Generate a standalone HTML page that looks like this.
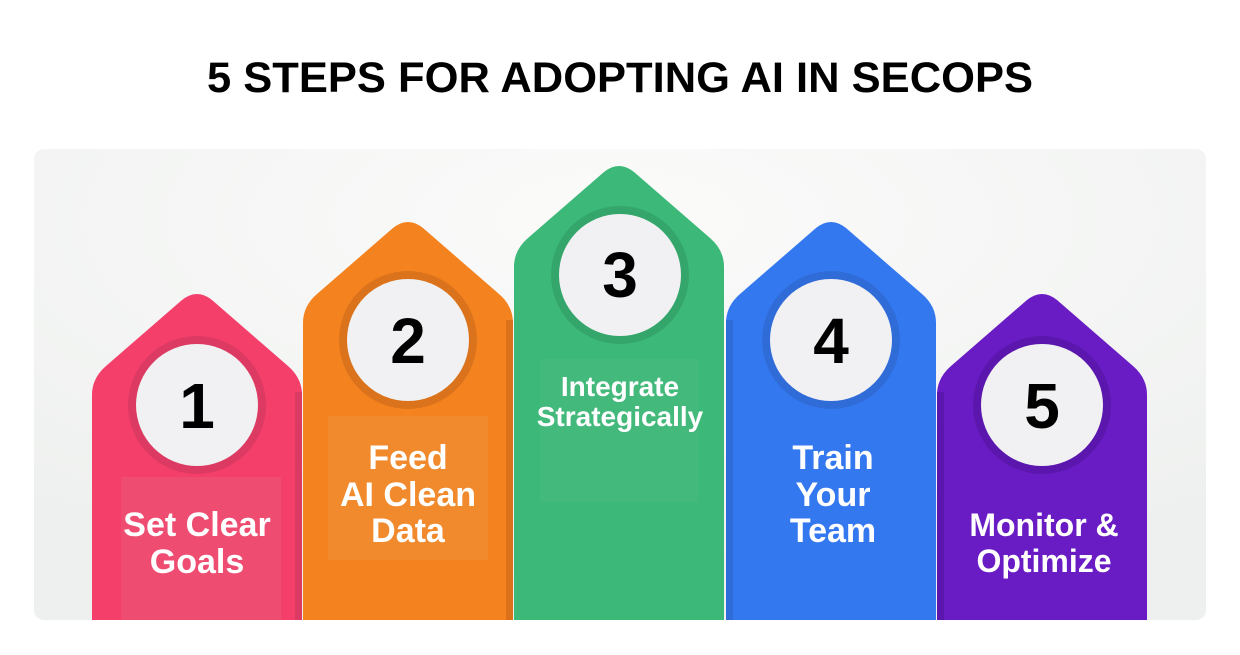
<!DOCTYPE html>
<html><head><meta charset="utf-8"><style>
body{margin:0;width:1240px;height:650px;background:#fff;overflow:hidden;font-family:"Liberation Sans",sans-serif}
</style></head><body>
<svg width="1240" height="650" xmlns="http://www.w3.org/2000/svg">
<defs>
<radialGradient id="bg" cx="0.5" cy="0.15" r="0.8">
<stop offset="0" stop-color="#fbfbfa"/><stop offset="1" stop-color="#eef0ef"/>
</radialGradient>
</defs>
<text x="620" y="92" text-anchor="middle" font-family="Liberation Sans" font-weight="bold" font-size="43" fill="#000" textLength="826" lengthAdjust="spacingAndGlyphs">5 STEPS FOR ADOPTING AI IN SECOPS</text>
<rect x="34" y="149" width="1172" height="471" rx="10" fill="url(#bg)"/>
<g id="cols">
<path d="M92,620 L92,395 Q92,378 106,366 L182,300 Q197,288 212,300 L288,366 Q302,378 302,395 L302,620 Z" fill="#f43f6b"/>
<rect x="295" y="392" width="7" height="228" fill="#db3a62"/>
<rect x="121" y="477" width="160" height="143" fill="#ef4c72"/>
<circle cx="197" cy="405" r="69" fill="#dc3a62"/><circle cx="197" cy="405" r="61" fill="#f1f0f2"/>
<text x="197" y="428" text-anchor="middle" font-weight="bold" font-size="64" fill="#000">1</text>
<text text-anchor="middle" font-weight="bold" font-size="34" fill="#fff"><tspan x="197" y="536">Set Clear</tspan><tspan x="197" y="573">Goals</tspan></text>
<path d="M303,620 L303,323 Q303,306 317,294 L393,228 Q408,216 423,228 L499,294 Q513,306 513,323 L513,620 Z" fill="#f3821f"/>
<rect x="506" y="320" width="7" height="300" fill="#dc711b"/>
<rect x="328" y="416" width="160" height="144" fill="#f18a2c"/>
<circle cx="408" cy="340" r="69" fill="#da731b"/><circle cx="408" cy="340" r="61" fill="#f1f0f2"/>
<text x="408" y="363" text-anchor="middle" font-weight="bold" font-size="64" fill="#000">2</text>
<text text-anchor="middle" font-weight="bold" font-size="34" fill="#fff"><tspan x="408" y="469">Feed</tspan><tspan x="408" y="506">AI Clean</tspan><tspan x="408" y="542">Data</tspan></text>
<path d="M514,620 L514,267 Q514,250 528,238 L604,172 Q619,160 634,172 L710,238 Q724,250 724,267 L724,620 Z" fill="#3cb878"/>
<rect x="540" y="359" width="158" height="143" fill="#44b97c"/>
<circle cx="620" cy="275" r="69" fill="#35a66b"/><circle cx="620" cy="275" r="61" fill="#f1f0f2"/>
<text x="620" y="297" text-anchor="middle" font-weight="bold" font-size="64" fill="#000">3</text>
<text text-anchor="middle" font-weight="bold" font-size="28" fill="#fff"><tspan x="620" y="396">Integrate</tspan><tspan x="620" y="426">Strategically</tspan></text>
<path d="M726,620 L726,323 Q726,306 740,294 L816,228 Q831,216 846,228 L922,294 Q936,306 936,323 L936,620 Z" fill="#3478f0"/>
<rect x="726" y="320" width="7" height="300" fill="#2f6cd8"/>
<circle cx="831" cy="340" r="69" fill="#2f6cd8"/><circle cx="831" cy="340" r="61" fill="#f1f0f2"/>
<text x="831" y="363" text-anchor="middle" font-weight="bold" font-size="64" fill="#000">4</text>
<text text-anchor="middle" font-weight="bold" font-size="34" fill="#fff"><tspan x="833" y="469">Train</tspan><tspan x="833" y="506">Your</tspan><tspan x="833" y="542">Team</tspan></text>
<path d="M937,620 L937,395 Q937,378 951,366 L1027,300 Q1042,288 1057,300 L1133,366 Q1147,378 1147,395 L1147,620 Z" fill="#6a1cc4"/>
<rect x="937" y="392" width="7" height="228" fill="#5b17ad"/>
<circle cx="1042" cy="405" r="69" fill="#5b17ad"/><circle cx="1042" cy="405" r="61" fill="#f1f0f2"/>
<text x="1042" y="428" text-anchor="middle" font-weight="bold" font-size="64" fill="#000">5</text>
<text text-anchor="middle" font-weight="bold" font-size="32" fill="#fff"><tspan x="1044" y="536">Monitor &amp;</tspan><tspan x="1044" y="572">Optimize</tspan></text>
</g>
</svg>
</body></html>
